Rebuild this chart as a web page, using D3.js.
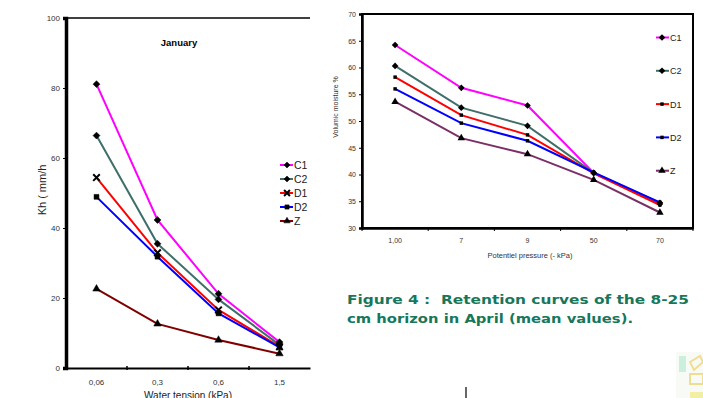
<!DOCTYPE html>
<html>
<head>
<meta charset="utf-8">
<script src="https://cdn.jsdelivr.net/npm/d3@7"></script>
<style>
  body { margin: 0; background: #fff; }
  svg { display: block; font-family: "Liberation Sans", Arial, sans-serif; }
</style>
</head>
<body>
<div id="viz"></div>
<script>
// left chart data (January, Kh vs water tension)
const tensionLabels = ["0,06", "0,3", "0,6", "1,5"];
const khC1 = [81.1, 42.3, 21.2, 7.4];
const khC2 = [66.4, 35.5, 19.6, 6.6];
const khD1 = [54.4, 32.9, 16.6, 6.1];
const khD2 = [48.9, 31.8, 15.6, 5.9];
const khZ  = [22.6, 12.6, 8.0, 4.1];
const khTicks = [0, 20, 40, 60, 80, 100];

// right chart data (volumic moisture vs potential pressure)
const pressureLabels = ["1,00", "7", "9", "50", "70"];
const vmC1 = [64.2, 56.2, 52.9, 40.3, 34.5];
const vmC2 = [60.3, 52.5, 49.1, 40.3, 34.7];
const vmD1 = [58.2, 51.1, 47.4, 40.2, 34.3];
const vmD2 = [56.0, 49.6, 46.3, 40.4, 34.8];
const vmZ  = [53.6, 46.8, 43.8, 39.0, 32.9];
const vmTicks = [30, 35, 40, 45, 50, 55, 60, 65, 70];

const width = 703, height = 398;

const svg = d3.select("#viz")
  .append("svg")
  .attr("width", width)
  .attr("height", height);

// diamond = square turned 45 degrees
const rot = s => s === "diamond" ? " rotate(45)" : "";
const symType = s => ({diamond: d3.symbolSquare, times: d3.symbolTimes,
                       square: d3.symbolSquare, triangle: d3.symbolTriangle})[s];

// ---------- left chart ----------
const xL = d3.scaleBand().domain(tensionLabels).range([66, 310]);
const yL = d3.scaleLinear().domain([0, 100]).range([368, 18]);

const leftSeries = [
  {name: "C1", values: khC1, color: "#ff00ff", sym: "diamond"},
  {name: "C2", values: khC2, color: "#3f6f6a", sym: "diamond"},
  {name: "D1", values: khD1, color: "#ff0000", sym: "times"},
  {name: "D2", values: khD2, color: "#0000ff", sym: "square"},
  {name: "Z",  values: khZ,  color: "#800000", sym: "triangle"}
];

const left = svg.append("g");

// top frame line
left.append("line")
  .attr("x1", 66).attr("x2", 310).attr("y1", yL(100)).attr("y2", yL(100))
  .attr("stroke", "#000").attr("stroke-width", 1.5);

// y axis
const yAxisL = left.append("g")
  .attr("transform", "translate(66,0)")
  .call(d3.axisLeft(yL).tickValues(khTicks).tickSize(3).tickPadding(3));
yAxisL.select(".domain").attr("stroke-width", 3.5);
yAxisL.selectAll("text").attr("font-size", 8).attr("fill", "#333");

// x axis
const xAxisL = left.append("g")
  .attr("transform", "translate(0," + yL(0) + ")")
  .call(d3.axisBottom(xL).tickSize(0).tickPadding(11));
xAxisL.select(".domain").attr("stroke-width", 2);
xAxisL.selectAll("text").attr("font-size", 8).attr("fill", "#333");
// boundary tick marks
left.selectAll(".xtickL")
  .data(tensionLabels.slice(1))
  .enter()
  .append("line")
  .attr("x1", d => xL(d)).attr("x2", d => xL(d))
  .attr("y1", yL(0) - 2).attr("y2", yL(0) + 2)
  .attr("stroke", "#000").attr("stroke-width", 1.5);

// labels
left.append("text")
  .attr("x", 179).attr("y", 46)
  .attr("text-anchor", "middle")
  .attr("font-size", 9.5).attr("font-weight", "bold")
  .text("January");

left.append("text")
  .attr("transform", "translate(46,190) rotate(-90)")
  .attr("text-anchor", "middle")
  .attr("font-size", 11).attr("fill", "#222")
  .text("Kh ( mm/h");

left.append("text")
  .attr("x", 188).attr("y", 399)
  .attr("text-anchor", "middle")
  .attr("font-size", 10).attr("fill", "#222")
  .text("Water tension (kPa)");

const lineL = d3.line()
  .x((d, i) => xL(tensionLabels[i]) + xL.bandwidth() / 2)
  .y(d => yL(d));

leftSeries.forEach(s => {
  left.append("path")
    .datum(s.values)
    .attr("d", lineL)
    .attr("fill", "none")
    .attr("stroke", s.color)
    .attr("stroke-width", 2);
});
leftSeries.forEach(s => {
  const sym = d3.symbol().type(symType(s.sym)).size(s.sym === "times" ? 30 : 24);
  left.selectAll(null)
    .data(s.values)
    .enter()
    .append("path")
    .attr("d", sym)
    .attr("transform", (d, i) => "translate(" + (xL(tensionLabels[i]) + xL.bandwidth() / 2) + "," + yL(d) + ")" + rot(s.sym))
    .attr("fill", s.sym === "times" ? "none" : "#000")
    .attr("stroke", "#000")
    .attr("stroke-width", s.sym === "times" ? 2 : 0.5);
});

// left legend
leftSeries.forEach((s, i) => {
  const y = 165 + i * 14;
  left.append("line")
    .attr("x1", 280).attr("x2", 293).attr("y1", y).attr("y2", y)
    .attr("stroke", s.color).attr("stroke-width", 2);
  left.append("path")
    .attr("d", d3.symbol().type(symType(s.sym)).size(s.sym === "times" ? 24 : 18))
    .attr("transform", "translate(287," + y + ")" + rot(s.sym))
    .attr("fill", s.sym === "times" ? "none" : "#000")
    .attr("stroke", "#000")
    .attr("stroke-width", s.sym === "times" ? 2 : 0.5);
  left.append("text")
    .attr("x", 294).attr("y", y + 4)
    .attr("font-size", 10.5).attr("fill", "#222")
    .text(s.name);
});

// ---------- right chart ----------
const xR = d3.scaleBand().domain(pressureLabels).range([362, 693]);
const yR = d3.scaleLinear().domain([30, 70]).range([228, 14]);

const rightSeries = [
  {name: "C1", values: vmC1, color: "#ff00ff", sym: "diamond", size: 22},
  {name: "C2", values: vmC2, color: "#3f6f6a", sym: "diamond", size: 22},
  {name: "D1", values: vmD1, color: "#ff0000", sym: "square", size: 12},
  {name: "D2", values: vmD2, color: "#0000ff", sym: "square", size: 12},
  {name: "Z",  values: vmZ,  color: "#7b2f66", sym: "triangle", size: 24}
];

const right = svg.append("g");

// frame
right.append("rect")
  .attr("x", 362).attr("y", 14)
  .attr("width", 693 - 362).attr("height", 228 - 14)
  .attr("fill", "none").attr("stroke", "#000").attr("stroke-width", 2);

const yAxisR = right.append("g")
  .attr("transform", "translate(362,0)")
  .call(d3.axisLeft(yR).tickValues(vmTicks).tickSize(3).tickPadding(3));
yAxisR.select(".domain").attr("stroke-width", 2.5);
yAxisR.selectAll("text").attr("font-size", 7).attr("fill", "#333");

const xAxisR = right.append("g")
  .attr("transform", "translate(0,228)")
  .call(d3.axisBottom(xR).tickSize(0).tickPadding(10));
xAxisR.select(".domain").attr("stroke-width", 2.5);
xAxisR.selectAll("text").attr("font-size", 7).attr("fill", "#333");
right.selectAll(".xtickR")
  .data(pressureLabels.slice(1).concat(["end"]))
  .enter()
  .append("line")
  .attr("x1", d => d === "end" ? 693 : xR(d))
  .attr("x2", d => d === "end" ? 693 : xR(d))
  .attr("y1", 228).attr("y2", 231)
  .attr("stroke", "#000").attr("stroke-width", 1);
right.append("line")
  .attr("x1", 362).attr("x2", 362).attr("y1", 228).attr("y2", 231)
  .attr("stroke", "#000").attr("stroke-width", 1);

right.append("text")
  .attr("transform", "translate(338,107) rotate(-90)")
  .attr("text-anchor", "middle")
  .attr("font-size", 7).attr("fill", "#333")
  .text("Volumic moisture %");

right.append("text")
  .attr("x", 530).attr("y", 258)
  .attr("text-anchor", "middle")
  .attr("font-size", 7.5).attr("fill", "#333")
  .text("Potentiel pressure (- kPa)");

const lineR = d3.line()
  .x((d, i) => xR(pressureLabels[i]) + xR.bandwidth() / 2)
  .y(d => yR(d));

rightSeries.forEach(s => {
  right.append("path")
    .datum(s.values)
    .attr("d", lineR)
    .attr("fill", "none")
    .attr("stroke", s.color)
    .attr("stroke-width", 2);
});
rightSeries.forEach(s => {
  right.selectAll(null)
    .data(s.values)
    .enter()
    .append("path")
    .attr("d", d3.symbol().type(symType(s.sym)).size(s.size))
    .attr("transform", (d, i) => "translate(" + (xR(pressureLabels[i]) + xR.bandwidth() / 2) + "," + yR(d) + ")" + rot(s.sym))
    .attr("fill", "#000");
});

// right legend
rightSeries.forEach((s, i) => {
  const y = 37.5 + i * 33.3;
  right.append("line")
    .attr("x1", 656).attr("x2", 669).attr("y1", y).attr("y2", y)
    .attr("stroke", s.color).attr("stroke-width", 2);
  right.append("path")
    .attr("d", d3.symbol().type(symType(s.sym)).size(s.size))
    .attr("transform", "translate(662," + y + ")" + rot(s.sym))
    .attr("fill", "#000");
  right.append("text")
    .attr("x", 670).attr("y", y + 3.5)
    .attr("font-size", 9).attr("fill", "#222")
    .text(s.name);
});

// ---------- caption ----------
const caption = svg.append("g")
  .attr("font-family", "'DejaVu Sans', Verdana, sans-serif")
  .attr("font-weight", "bold")
  .attr("font-size", 13)
  .attr("fill", "#17775a");
caption.append("text")
  .attr("x", 347).attr("y", 304)
  .attr("textLength", 342).attr("lengthAdjust", "spacingAndGlyphs")
  .attr("xml:space", "preserve")
  .text("Figure 4 :  Retention curves of the 8-25");
caption.append("text")
  .attr("x", 347).attr("y", 323)
  .attr("textLength", 286).attr("lengthAdjust", "spacingAndGlyphs")
  .text("cm horizon in April (mean values).");

// stray mark and logo fragment at the bottom
svg.append("line")
  .attr("x1", 466).attr("x2", 466).attr("y1", 387).attr("y2", 398)
  .attr("stroke", "#000").attr("stroke-width", 1.2);
const logo = svg.append("g").attr("opacity", 0.55);
logo.append("rect").attr("x", 676).attr("y", 352).attr("width", 27).attr("height", 46).attr("fill", "#f4f7ee");
logo.append("rect").attr("x", 679).attr("y", 356).attr("width", 7).attr("height", 16).attr("fill", "#9fe3c0");
logo.append("path").attr("d", "M690,362 L700,356 L703,362 L694,370 Z").attr("fill", "none").attr("stroke", "#e6c23a").attr("stroke-width", 2);
logo.append("rect").attr("x", 690).attr("y", 374).attr("width", 13).attr("height", 10).attr("fill", "none").attr("stroke", "#e6c23a").attr("stroke-width", 2);
logo.append("rect").attr("x", 690).attr("y", 392).attr("width", 13).attr("height", 6).attr("fill", "#e8e35a");
</script>
</body>
</html>
